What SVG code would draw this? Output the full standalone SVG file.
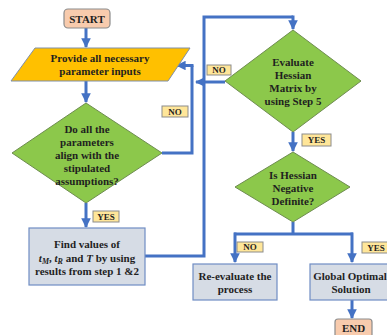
<svg xmlns="http://www.w3.org/2000/svg" width="387" height="335" viewBox="0 0 387 335">
<defs>
<marker id="ah" viewBox="0 0 10 10" refX="9" refY="5" markerWidth="3.2" markerHeight="3.2" orient="auto" markerUnits="strokeWidth">
<path d="M0,0 L10,5 L0,10 z" fill="#4472C4"/>
</marker>
<style>
.t{font-family:"Liberation Serif","Times New Roman",serif;font-weight:bold;font-size:11px;fill:#1f1f1f;text-anchor:middle}
.lt{font-family:"Liberation Serif","Times New Roman",serif;font-weight:bold;font-size:9px;fill:#1f1f1f;text-anchor:middle}
.term{fill:#F8CBAD;stroke:#8C8C8C;stroke-width:1.2}
.dia{fill:#8CC84B;stroke:#6E8C50;stroke-width:1}
.box{fill:#D6DCE5;stroke:#6F8DC4;stroke-width:1.2}
.lab{fill:#FFE699;stroke:#8C8C8C;stroke-width:1}
.c{fill:none;stroke:#4472C4;stroke-width:3;stroke-linejoin:miter}
.ca{fill:none;stroke:#4472C4;stroke-width:3;marker-end:url(#ah)}
</style>
</defs>
<rect width="387" height="335" fill="#ffffff"/>

<g id="connectors">
<path class="ca" d="M86,28 V47"/>
<path class="ca" d="M86,81 V102"/>
<path class="c" d="M162,153 H192 V65.5"/>
<path class="ca" d="M193.5,65.5 H177"/>
<path class="ca" d="M86,203 V227"/>
<path class="c" d="M145,256 H204 V17 H293"/>
<path class="ca" d="M293,15.5 V29"/>
<path class="ca" d="M225,82 H196"/>
<path class="ca" d="M293,132 V151"/>
<path class="c" d="M293,222 V234 M234,234 H353"/>
<path class="ca" d="M235,232.5 V262"/>
<path class="ca" d="M352,232.5 V262"/>
<path class="ca" d="M352,300 V318"/>
</g>

<g id="start">
<rect class="term" x="64" y="9" width="46" height="19" rx="4"/>
<text class="t" x="87" y="22.5">START</text>
</g>

<g id="inputs">
<polygon points="35,48 190,48 168,81 11,81" fill="#FFC000" stroke="#7F8FA8" stroke-width="1"/>
<text class="t" x="100" y="62">Provide all necessary</text>
<text class="t" x="100" y="75">parameter inputs</text>
</g>

<g id="check">
<polygon class="dia" points="86,103 162,153 86,203 12,153"/>
<text class="t" x="87" y="133">Do all the</text>
<text class="t" x="87" y="146">parameters</text>
<text class="t" x="87" y="159">align with the</text>
<text class="t" x="87" y="172">stipulated</text>
<text class="t" x="87" y="185">assumptions?</text>
</g>

<g id="lab-no1">
<rect class="lab" x="162" y="106" width="26" height="11"/>
<text class="lt" x="175" y="114.5">NO</text>
</g>

<g id="lab-yes1">
<rect class="lab" x="93" y="211" width="26" height="11"/>
<text class="lt" x="106" y="219.5">YES</text>
</g>

<g id="find">
<rect class="box" x="29" y="228" width="116" height="57"/>
<text class="t" x="87" y="248">Find values of</text>
<text class="t" x="87" y="262"><tspan font-style="italic">t</tspan><tspan font-style="italic" font-size="8" dy="2">M</tspan><tspan dy="-2">, </tspan><tspan font-style="italic">t</tspan><tspan font-style="italic" font-size="8" dy="2">R</tspan><tspan dy="-2"> and </tspan><tspan font-style="italic">T</tspan> by using</text>
<text class="t" x="87" y="275">results from step 1 &amp;2</text>
</g>

<g id="hessian">
<polygon class="dia" points="293,30 361,81 293,132 225,81"/>
<text class="t" x="293" y="66">Evaluate</text>
<text class="t" x="293" y="79">Hessian</text>
<text class="t" x="293" y="92">Matrix by</text>
<text class="t" x="293" y="105">using Step 5</text>
</g>

<g id="lab-no2">
<rect class="lab" x="207" y="65" width="24" height="10"/>
<text class="lt" x="219" y="73">NO</text>
</g>

<g id="lab-yes2">
<rect class="lab" x="302" y="134" width="29" height="12"/>
<text class="lt" x="316.5" y="143">YES</text>
</g>

<g id="negdef">
<polygon class="dia" points="293,152 350,187 293,222 235,187"/>
<text class="t" x="293" y="179">Is Hessian</text>
<text class="t" x="293" y="192">Negative</text>
<text class="t" x="293" y="205">Definite?</text>
</g>

<g id="lab-no3">
<rect class="lab" x="237" y="242" width="26" height="10"/>
<text class="lt" x="250" y="250">NO</text>
</g>

<g id="lab-yes3">
<rect class="lab" x="362" y="242" width="28" height="11"/>
<text class="lt" x="376" y="250.5">YES</text>
</g>

<g id="reeval">
<rect class="box" x="193" y="264" width="84" height="36"/>
<text class="t" x="235" y="280">Re-evaluate the</text>
<text class="t" x="235" y="293">process</text>
</g>

<g id="global">
<rect class="box" x="310" y="264" width="86" height="36"/>
<text class="t" x="350" y="280">Global Optimal</text>
<text class="t" x="351" y="293">Solution</text>
</g>

<g id="end">
<rect class="term" x="335" y="319" width="37" height="20" rx="3"/>
<text class="t" x="353.5" y="332">END</text>
</g>
</svg>
